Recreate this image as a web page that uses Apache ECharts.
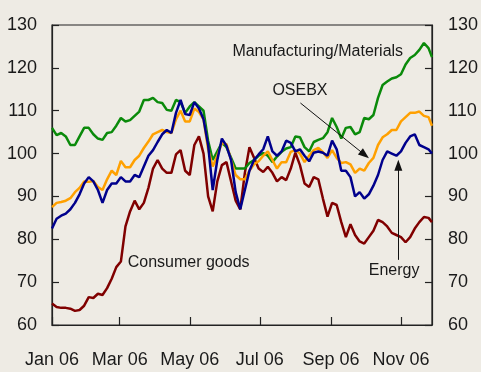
<!DOCTYPE html>
<html>
<head>
<meta charset="utf-8">
<script src="https://cdn.jsdelivr.net/npm/echarts@6/dist/echarts.min.js"></script>
<style>
  html, body { margin: 0; padding: 0; background: #EEEBE4; }
  #chart { width: 481px; height: 372px; }
</style>
</head>
<body>
<div id="chart"></div>
<script>
// Day offsets from 1 Jan 2006
const days = [0,4,8,12,16,20,24,28,32,36,40,44,48,52,56,60,64,68,72,76,80,84,88,92,96,100,
  104,108,112,116,120,124,128,132,136,140,144,148,152,156,160,164,168,172,176,180,184,188,
  192,196,200,204,208,212,216,220,224,228,232,236,240,244,248,252,256,260,264,268,272,276,
  280,284,288,292,296,300,304,308,312,316,320,324,328,331];

// Month tick positions (day offsets) and their labels
const monthDays = [0, 59, 120, 181, 243, 304];
const monthLabels = ['Jan 06', 'Mar 06', 'May 06', 'Jul 06', 'Sep 06', 'Nov 06'];

// Index levels
const manufacturing = [106,104.3,104.8,104,102,102,104,106,106,104.5,103.5,103.2,104.8,105,106.5,108.3,
  107.5,107.8,108.8,109.8,112.5,112.5,113,112,111.8,110.2,110,112.5,112,109.5,111,112,111,110,103,98.5,
  100.5,102.5,101.5,99,96.5,96.5,96.5,97.8,98.5,99.5,100.1,99.5,98,99.3,100.4,101.2,101.5,104,103.8,
  101.5,100.5,102.7,103.2,103.6,105,108.3,106.2,103.5,106,106.2,104.5,105,108.3,108,109,113,116,116.8,
  117.5,117.8,118.5,120.8,122.3,123,124.2,125.8,124.6,122.5];

const osebx = [87.5,88.5,88.7,89,89.6,91,92,93.5,93.4,93.6,92.2,91.5,94,96,95,98.3,96.8,96.8,98.5,99.5,
  101.3,102.8,104.5,105,105.5,105,104.8,108,110,107.5,107.5,110.5,109.7,108,101,97,99.5,102.5,102.2,98.5,
  95,94,94,96,97.5,98.2,99.5,100.5,98.5,96.5,98,98,100.4,100.8,100,98,99.5,100.8,101.3,100.3,99,100.8,
  99,97.8,98,97.5,95.5,96.5,96,97.8,99,102,103.8,104.5,105.5,105.5,107.5,108.5,109.5,109.5,109.8,108.8,
  108.5,106.5];

const energy = [82.5,84.8,85.5,86,87,88.5,90.5,93,94.5,93.5,91.5,88.5,91.5,93,93,94.5,93.5,93.5,95,94.5,
  97,99.5,100.8,102.7,104.5,105.5,104.8,109.5,112.5,109.2,109,112,110.5,108,102,91.5,98.5,103.5,101.8,
  98.5,91,87,91.5,96,98.5,99.8,101,104,100.5,99.5,100.5,103,102.5,100.5,101,99.5,98.2,100.2,100.5,100.2,
  99.5,103,101,96,96,94.5,90,91,89.5,90.5,92.5,95,98.5,100.5,100,99.5,100.5,102.5,104,104.5,102,101.5,
  101,100];

const consumer = [65,64.2,64,64,63.8,63.3,63.5,64.5,66.5,66.3,67.3,67,68.6,70.8,73.5,74.8,83,86.5,89,87,
  88.5,92,96.5,98.5,96.5,95.5,95.5,99.8,100.8,96,95,102,104,100,90,86.5,93.5,97.3,98,93.5,89,87,95.5,
  101.5,99,96.5,95.7,96.9,95.5,93.5,94.5,93.8,96.5,100.2,97.3,93,92.2,94.5,94,89.5,85.3,88.5,88,84,80.5,
  83.5,81,79.5,79,80.5,82,84.5,84,83,81.5,81,80.5,79.3,80.5,82.5,84,85.2,85,84];

const pair = vals => days.map((d, i) => [d, vals[i]]);

const tickFont = {
  fontFamily: "'Liberation Sans', Arial, sans-serif",
  fontSize: 18,
  color: '#1a1a1a'
};
const noteFont = {
  fontFamily: "'Liberation Sans', Arial, sans-serif",
  fontSize: 16,
  color: '#1a1a1a'
};

function note(text, day, value) {
  return {
    coord: [day, value],
    symbol: 'circle',
    symbolSize: 1,
    itemStyle: { color: 'rgba(0,0,0,0)' },
    label: Object.assign({ show: true, position: 'inside', formatter: text }, noteFont)
  };
}

function arrowLine(from, to) {
  return [
    { coord: from, symbol: 'none' },
    { coord: to, symbol: 'triangle', symbolSize: [8, 11] }
  ];
}

const yAxisBase = {
  type: 'value',
  min: 60,
  max: 130,
  interval: 10,
  axisLine: { show: true, lineStyle: { color: '#222', width: 1.2 } },
  axisTick: { show: true, inside: true, length: 7, lineStyle: { color: '#222', width: 1.2 } },
  splitLine: { show: false }
};

const chart = echarts.init(document.getElementById('chart'), null, { renderer: 'canvas' });
chart.setOption({
  backgroundColor: '#EEEBE4',
  animation: false,
  grid: {
    left: 52, right: 45, top: 25, bottom: 47,
    show: true, borderColor: '#222', borderWidth: 1.2, backgroundColor: 'transparent'
  },
  xAxis: {
    type: 'value',
    min: 0,
    max: 331,
    axisLine: { show: true, onZero: false, lineStyle: { color: '#222', width: 1.2 } },
    axisTick: { show: true, inside: true, length: 8, customValues: monthDays, lineStyle: { color: '#222', width: 1.2 } },
    axisLabel: Object.assign({
      customValues: monthDays,
      margin: 26,
      formatter: v => monthLabels[monthDays.indexOf(v)]
    }, tickFont),
    splitLine: { show: false }
  },
  yAxis: [
    Object.assign({}, yAxisBase, { position: 'left', axisLabel: Object.assign({ margin: 15 }, tickFont) }),
    Object.assign({}, yAxisBase, { position: 'right', axisLabel: Object.assign({ margin: 16 }, tickFont) })
  ],
  series: [
    {
      name: 'Consumer goods', type: 'line', data: pair(consumer), showSymbol: false,
      lineStyle: { color: '#800000', width: 2.5 }, itemStyle: { color: '#800000' },
      markPoint: { silent: true, data: [note('Consumer goods', 119, 74.5)] }
    },
    {
      name: 'Manufacturing/Materials', type: 'line', data: pair(manufacturing), showSymbol: false,
      lineStyle: { color: '#0A8A0A', width: 2.5 }, itemStyle: { color: '#0A8A0A' },
      markPoint: { silent: true, data: [note('Manufacturing/Materials', 231.5, 123.7)] }
    },
    {
      name: 'OSEBX', type: 'line', data: pair(osebx), showSymbol: false,
      lineStyle: { color: '#FFA000', width: 2.5 }, itemStyle: { color: '#FFA000' },
      markPoint: { silent: true, data: [note('OSEBX', 216, 114.8)] },
      markLine: {
        silent: true, animation: false,
        lineStyle: { color: '#111', width: 1, type: 'solid' },
        label: { show: false },
        data: [arrowLine([216.4, 111.8], [272.4, 99.7])]
      }
    },
    {
      name: 'Energy', type: 'line', data: pair(energy), showSymbol: false,
      lineStyle: { color: '#00008C', width: 2.5 }, itemStyle: { color: '#00008C' },
      markPoint: { silent: true, data: [note('Energy', 298, 72.8)] },
      markLine: {
        silent: true, animation: false,
        lineStyle: { color: '#111', width: 1, type: 'solid' },
        label: { show: false },
        data: [arrowLine([301.7, 75.2], [301.7, 97.3])]
      }
    }
  ]
});
</script>
</body>
</html>
